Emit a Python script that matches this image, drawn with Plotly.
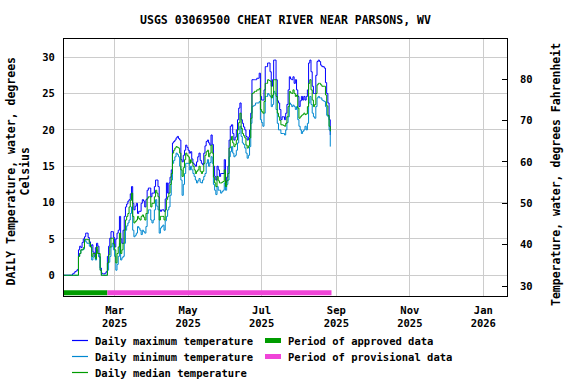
import plotly.graph_objects as go
import pandas as pd

title = "USGS 03069500 CHEAT RIVER NEAR PARSONS, WV"
start_date = "2025-01-18"

# Daily maximum water temperature, deg C
max_c = [
    0.0, 0.0, 0.0, 0.0, 0.0, 0.0, 0.0, 0.2, 0.3, 0.5,
    0.6, 0.8, 3.5, 4.0, 3.8, 4.5, 5.0, 5.3, 5.8, 5.8,
    5.2, 4.6, 4.0, 4.2, 3.2, 2.6, 3.8, 4.4, 4.0, 2.5,
    1.0, 0.3, 0.2, 0.2, 0.3, 0.5, 2.6, 4.0, 5.1, 6.0,
    6.0, 5.2, 3.9, 5.0, 5.8, 6.2, 8.1, 5.0, 4.4, 6.2,
    8.1, 9.4, 9.8, 10.2, 10.4, 11.2, 12.2, 9.9, 9.0, 9.5,
    9.9, 8.5, 8.8, 8.8, 9.9, 10.4, 10.2, 9.4, 10.4, 11.7,
    12.0, 12.0, 10.8, 11.3, 11.3, 12.2, 13.1, 13.1, 12.2, 9.0,
    8.8, 9.0, 9.0, 8.8, 10.5, 12.7, 11.3, 12.7, 13.5, 14.5,
    18.2, 18.4, 18.6, 18.9, 19.1, 18.8, 18.6, 15.9, 15.6, 16.5,
    17.2, 17.9, 17.6, 17.2, 16.8, 17.0, 16.0, 15.4, 15.2, 15.0,
    15.6, 16.3, 16.8, 15.8, 15.4, 15.2, 16.8, 17.8, 18.4, 18.6,
    18.2, 17.9, 19.3, 18.0, 15.0, 13.6, 13.1, 15.0, 14.5, 13.6,
    14.0, 14.0, 14.0, 15.9, 12.7, 13.5, 15.0, 18.6, 20.5, 20.7,
    19.5, 18.6, 19.0, 20.0, 21.4, 23.0, 23.7, 21.4, 20.9, 20.4,
    20.0, 19.1, 18.6, 19.0, 20.0, 22.3, 26.9, 26.9, 26.9, 26.9,
    27.1, 27.1, 27.8, 24.6, 24.1, 24.1, 25.5, 28.7, 28.7, 29.2,
    29.2, 28.0, 26.0, 26.9, 29.6, 29.6, 26.9, 24.0, 23.7, 22.8,
    21.4, 21.8, 21.8, 21.4, 22.3, 23.5, 25.5, 27.3, 27.0, 26.9,
    27.3, 26.4, 26.9, 25.5, 24.6, 23.2, 24.0, 24.6, 24.1, 24.6,
    24.1, 24.6, 25.5, 29.2, 29.6, 28.0, 26.0, 25.0, 25.0, 27.5,
    29.4, 29.6, 29.4, 28.9, 28.7, 28.7, 28.5, 26.5, 25.0, 23.7,
    21.4, 19.3,
]

# Daily minimum water temperature, deg C
min_c = [
    0.0, 0.0, 0.0, 0.0, 0.0, 0.0, 0.0, 0.0, 0.0, 0.0,
    0.0, 0.0, 2.6, 3.0, 3.5, 3.5, 3.6, 4.9, 4.6, 4.4,
    4.4, 4.0, 3.9, 2.1, 2.5, 2.6, 2.1, 3.5, 3.0, 2.6,
    0.7, 0.0, 0.0, 0.0, 0.0, 0.0, 0.7, 1.8, 2.6, 3.9,
    4.4, 3.5, 2.6, 0.7, 1.5, 2.6, 4.4, 2.1, 2.4, 2.6,
    4.4, 6.2, 6.8, 7.2, 7.6, 8.5, 9.4, 6.2, 5.3, 5.5,
    5.8, 6.7, 6.5, 6.2, 5.6, 6.2, 6.0, 5.8, 6.7, 8.5,
    9.0, 9.0, 7.6, 7.2, 7.6, 9.0, 10.4, 9.5, 9.0, 5.8,
    6.5, 6.7, 6.9, 6.2, 7.5, 8.1, 9.0, 9.4, 11.0, 13.1,
    15.4, 15.8, 16.3, 16.8, 16.6, 16.3, 15.0, 13.1, 11.0, 12.5,
    14.0, 15.4, 15.4, 15.4, 14.5, 15.0, 14.5, 14.0, 13.6, 13.1,
    12.7, 13.0, 13.3, 12.8, 12.7, 13.1, 13.6, 14.0, 15.4, 15.9,
    15.0, 15.5, 16.3, 15.4, 12.5, 11.7, 11.1, 12.2, 11.7, 11.7,
    11.3, 11.5, 11.7, 12.7, 11.7, 12.5, 13.1, 16.3, 17.0, 17.7,
    16.8, 16.3, 16.5, 17.2, 18.2, 19.5, 20.5, 19.1, 18.2, 18.0,
    17.5, 16.8, 16.1, 16.5, 17.7, 20.9, 23.2, 23.3, 23.4, 23.7,
    23.7, 23.7, 23.9, 21.4, 21.0, 20.5, 22.3, 24.6, 24.6, 25.0,
    24.8, 24.6, 23.2, 23.5, 25.3, 25.0, 22.8, 20.9, 20.0, 20.0,
    19.5, 19.5, 19.5, 19.3, 20.0, 21.0, 21.8, 23.7, 23.5, 23.2,
    23.4, 23.2, 22.8, 23.2, 21.4, 20.5, 20.0, 19.5, 19.8, 20.0,
    20.5, 20.0, 20.9, 23.7, 24.6, 23.5, 22.3, 21.8, 21.6, 23.2,
    24.4, 24.6, 24.4, 24.4, 24.1, 24.0, 23.9, 23.2, 22.0, 21.8,
    20.0, 17.7,
]

# Daily median water temperature, deg C
med_c = [
    0.0, 0.0, 0.0, 0.0, 0.0, 0.0, 0.0, 0.0, 0.0, 0.0,
    0.0, 0.0, 2.6, 3.0, 3.5, 3.5, 3.8, 4.9, 4.9, 4.9,
    4.9, 4.4, 3.9, 2.6, 3.0, 3.0, 2.3, 3.9, 3.0, 3.0,
    0.7, 0.0, 0.0, 0.0, 0.0, 0.0, 1.7, 2.8, 3.9, 5.1,
    5.1, 4.3, 3.5, 1.7, 3.0, 3.9, 5.8, 3.0, 3.5, 4.4,
    6.2, 7.6, 8.1, 8.5, 9.4, 10.3, 11.3, 8.1, 7.2, 7.4,
    7.6, 8.1, 7.8, 7.6, 8.1, 8.3, 8.0, 7.6, 8.5, 10.6,
    10.8, 10.8, 9.4, 9.9, 9.9, 10.8, 11.7, 11.3, 10.8, 7.6,
    8.1, 8.1, 8.1, 7.6, 9.0, 10.4, 10.8, 11.3, 12.5, 14.0,
    16.8, 17.2, 17.5, 17.7, 17.6, 17.5, 16.8, 14.5, 13.6, 14.8,
    15.9, 16.8, 16.5, 16.3, 15.4, 15.9, 15.5, 15.0, 14.5, 14.0,
    14.3, 14.5, 15.0, 14.3, 14.0, 14.3, 15.4, 16.5, 17.0, 17.2,
    16.3, 16.8, 17.9, 16.8, 13.5, 12.7, 12.2, 13.6, 13.0, 12.7,
    12.7, 12.8, 12.9, 14.5, 12.2, 13.0, 14.0, 17.5, 18.6, 19.1,
    18.2, 17.7, 18.0, 18.6, 20.0, 21.0, 22.3, 20.2, 19.5, 19.2,
    18.9, 17.9, 17.5, 17.8, 18.9, 21.6, 25.0, 25.1, 25.3, 25.3,
    25.5, 25.5, 25.7, 22.8, 22.5, 22.3, 23.9, 26.4, 26.4, 26.9,
    26.8, 26.7, 24.4, 24.8, 26.9, 26.9, 24.6, 22.3, 21.8, 21.3,
    20.7, 20.7, 20.6, 20.5, 20.9, 21.8, 23.2, 25.3, 25.1, 25.0,
    25.5, 25.0, 24.6, 24.8, 23.0, 21.6, 21.8, 22.0, 22.1, 22.3,
    22.1, 22.2, 23.2, 26.4, 26.9, 25.5, 24.1, 23.2, 23.5, 25.0,
    26.2, 26.4, 26.4, 26.2, 26.0, 26.0, 26.0, 24.8, 23.3, 22.0,
    20.5, 19.8,
]

approved_period = ["2025-01-18", "2025-02-23"]
provisional_period = ["2025-02-23", "2025-08-28"]

x_range = ["2025-01-18", "2026-01-20 16:00"]
y_range_c = [-2.85, 32.5]
y_range_f = [27.6, 89.7]

series_names = ["Daily maximum temperature", "Daily minimum temperature", "Daily median temperature"]
period_names = ["Period of approved data", "Period of provisional data"]
series_colors = ["#0000ff", "#0088d0", "#009c00"]
period_colors = ["#009c00", "#f044d8"]
left_title = "DAILY Temperature, water, degrees<br>Celsius"
right_title = "Temperature, water, degrees Fahrenheit"

dates = pd.date_range(start_date, periods=len(max_c), freq="D")
bar_y = y_range_c[0] + 0.45

FONT = dict(family="DejaVu Sans Mono", size=10.5, color="black", weight="bold")
TFONT = dict(family="DejaVu Sans Mono", size=11.5, color="black", weight="bold")

W, H = 576, 384
ML, MR, MT, MB = 64, 69, 39, 88
PW, PH = W - ML - MR, H - MT - MB

fig = go.Figure()
for vals, name, col in zip([max_c, min_c, med_c], series_names, series_colors):
    fig.add_trace(go.Scatter(x=dates, y=vals, mode="lines", name=name,
                             line=dict(color=col, width=1, shape="hv")))
for per, name, col in zip([approved_period, provisional_period], period_names, period_colors):
    fig.add_trace(go.Scatter(x=per, y=[bar_y, bar_y], mode="lines", name=name,
                             line=dict(color=col, width=5)))
fig.add_trace(go.Scatter(x=[dates[0]], y=[None], yaxis="y2", showlegend=False, hoverinfo="skip"))


def px_x(px):
    return (px - ML) / PW


def px_y(py):
    return (H - MB - py) / PH


# manual legend (two columns, 16 px rows)
shapes = []
annotations = []
rows_y = [340.5, 356.5, 372.5]
for i, (name, col) in enumerate(zip(series_names, series_colors)):
    shapes.append(dict(type="line", xref="paper", yref="paper", x0=px_x(72), x1=px_x(88),
                       y0=px_y(rows_y[i]), y1=px_y(rows_y[i]), line=dict(color=col, width=1.2)))
    annotations.append(dict(text=name, xref="paper", yref="paper", x=px_x(92.5), y=px_y(rows_y[i]),
                            xanchor="left", yanchor="middle", showarrow=False, font=FONT))
for i, (name, col) in enumerate(zip(period_names, period_colors)):
    shapes.append(dict(type="line", xref="paper", yref="paper", x0=px_x(265), x1=px_x(281),
                       y0=px_y(rows_y[i]), y1=px_y(rows_y[i]), line=dict(color=col, width=5)))
    annotations.append(dict(text=name, xref="paper", yref="paper", x=px_x(285.5), y=px_y(rows_y[i]),
                            xanchor="left", yanchor="middle", showarrow=False, font=FONT))

# axis titles
annotations.append(dict(text=left_title, xref="paper", yref="paper", x=px_x(18.5), y=px_y(172),
                        xanchor="center", yanchor="middle", textangle=-90, showarrow=False, font=TFONT))
annotations.append(dict(text=right_title, xref="paper", yref="paper", x=px_x(556), y=px_y(175),
                        xanchor="center", yanchor="middle", textangle=-90, showarrow=False, font=TFONT))

fig.update_layout(
    width=W, height=H,
    margin=dict(l=ML, r=MR, t=MT, b=MB, autoexpand=False),
    paper_bgcolor="white", plot_bgcolor="white",
    font=FONT,
    title=dict(text=title, x=px_x(285.5), xref="paper", xanchor="center",
               y=1 - 20 / H, yanchor="middle", font=TFONT),
    showlegend=False,
    shapes=shapes,
    annotations=annotations,
    xaxis=dict(type="date", range=x_range, tick0="2025-01-01", dtick="M2", tickformat="%b<br>%Y",
               showgrid=True, gridcolor="#cccccc", gridwidth=1, showline=True, mirror=True,
               linecolor="black", linewidth=1, ticks="", zeroline=False, tickfont=FONT,
               automargin=False, ticklabelstandoff=4),
    yaxis=dict(range=y_range_c, dtick=5, tick0=0, showgrid=True, gridcolor="#cccccc", gridwidth=1,
               showline=True, mirror=True, linecolor="black", linewidth=1, ticks="", zeroline=False,
               tickfont=FONT, automargin=False, ticklabelstandoff=6),
    yaxis2=dict(overlaying="y", side="right", range=y_range_f, dtick=10, tick0=0, showgrid=False,
                ticks="inside", ticklen=5, tickcolor="black", zeroline=False, tickfont=FONT,
                ticklabelstandoff=12, automargin=False),
)

fig.write_html("out.html", config={"displayModeBar": False},
               post_script="document.body.style.margin='0';document.body.style.padding='0';")
